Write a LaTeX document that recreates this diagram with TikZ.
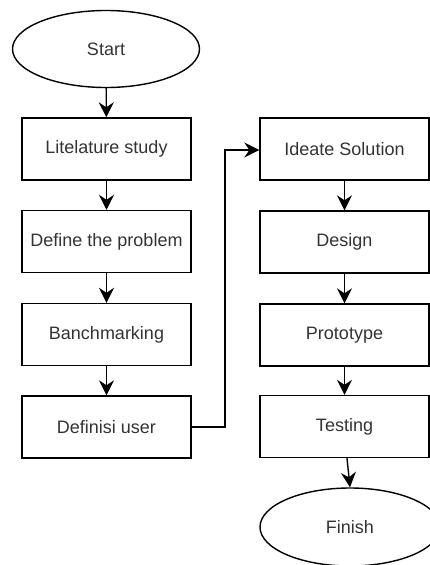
\documentclass[tikz,border=0pt]{standalone}
\usepackage{fontspec}
\setmainfont{Liberation Sans}
\usetikzlibrary{shapes.geometric, arrows.meta}

\tikzset{
    stepbox/.style={draw, line width=1.4pt, rectangle, minimum width=169pt, minimum height=62pt, inner sep=0pt, text=black!80, font=\fontsize{18}{20}\selectfont},
    terminal/.style={draw, line width=1.4pt, ellipse, minimum width=187pt, minimum height=77pt, inner sep=0pt, text=black!80, font=\fontsize{18}{20}\selectfont},
    flow/.style={line width=1.4pt, -{Stealth[length=15pt, width=15pt, inset=5pt]}}
}

\begin{document}
\begin{tikzpicture}[x=1pt, y=-1pt]
        \useasboundingbox (0, 0) rectangle (429, 565);
        % Left column
        \node[terminal] (start) at (106, 49) {Start};
        \node[stepbox] (study) at (106.5, 149) {Litelature study};
        \node[stepbox] (problem) at (106.5, 241.5) {Define the problem};
        \node[stepbox] (bench) at (106.5, 334.5) {Banchmarking};
        \node[stepbox] (user) at (106.5, 427) {Definisi user};
        % Right column
        \node[stepbox] (ideate) at (344.5, 149) {Ideate Solution};
        \node[stepbox] (design) at (344.5, 242) {Design};
        \node[stepbox] (proto) at (344.5, 335) {Prototype};
        \node[stepbox] (testing) at (344.5, 426.5) {Testing};
        \node[terminal, minimum width=180pt, minimum height=78pt] (finish) at (350, 527) {Finish};
        % Connectors
        \draw[flow] (start) -- (study);
        \draw[flow] (study) -- (problem);
        \draw[flow] (problem) -- (bench);
        \draw[flow] (bench) -- (user);
        \draw[flow] (user.east) -- (225, 427) -- (225, 150) -- (ideate.west |- 0, 150);
        \draw[flow] (ideate) -- (design);
        \draw[flow] (design) -- (proto);
        \draw[flow] (proto) -- (testing);
        \draw[flow] ([xshift=2.5pt]testing.south) -- (finish.north);
    \end{tikzpicture}
\end{document}
